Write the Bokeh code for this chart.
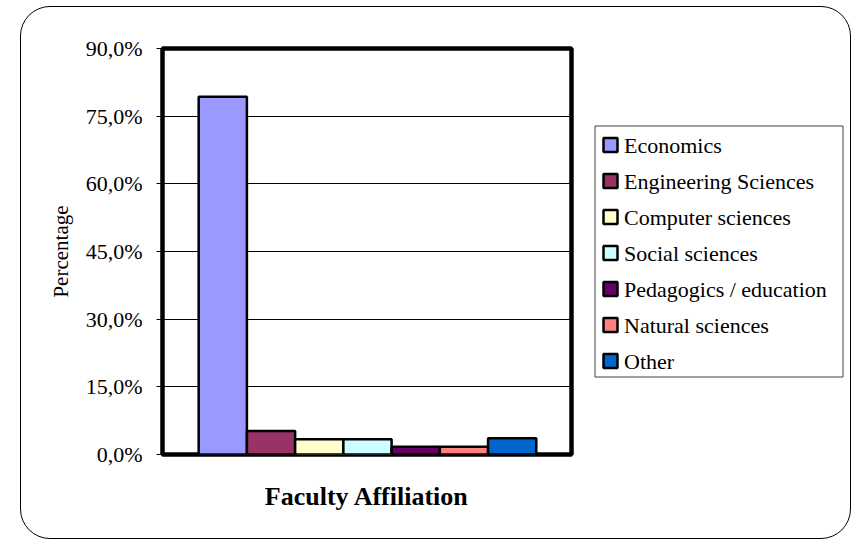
from bokeh.plotting import figure
from bokeh.models import Range1d, FixedTicker, ColumnDataSource, Label
from bokeh.layouts import row
from bokeh.embed import file_html
from bokeh.resources import INLINE

categories = ["Economics", "Engineering Sciences", "Computer sciences", "Social sciences",
              "Pedagogics / education", "Natural sciences", "Other"]
values = [79.3, 5.2, 3.4, 3.4, 1.7, 1.7, 3.6]
colors = ["#9999FF", "#993366", "#FFFFCC", "#CCFFFF", "#660066", "#FF8080", "#0066CC"]
y_ticks = [0, 15, 30, 45, 60, 75, 90]
y_tick_labels = ["0,0%", "15,0%", "30,0%", "45,0%", "60,0%", "75,0%", "90,0%"]

FONT = "Liberation Serif"
FH = 406

p = figure(frame_width=409, frame_height=FH,
           min_border_left=141, min_border_right=10, min_border_top=41, min_border_bottom=84,
           x_range=Range1d(-1.25, 7.23), y_range=Range1d(0, 90),
           output_backend="svg", toolbar_location=None)
p.outline_line_color = "black"
p.outline_line_width = 4.5
p.background_fill_color = "white"
p.border_fill_color = None

src = ColumnDataSource(dict(x=list(range(len(categories))), top=values, color=colors, cat=categories))
p.vbar(x="x", top="top", bottom=0, width=1.0, source=src,
       fill_color="color", line_color="black", line_width=2.5)

# axes
p.xaxis.ticker = FixedTicker(ticks=[])
p.xaxis.axis_line_color = None
p.xaxis.major_tick_line_color = None
p.xaxis.minor_tick_line_color = None
p.xaxis.axis_label = "Faculty Affiliation"
p.xaxis.axis_label_text_font = FONT
p.xaxis.axis_label_text_font_style = "bold"
p.xaxis.axis_label_text_font_size = "26px"
p.xaxis.axis_label_text_color = "black"
p.xaxis.axis_label_standoff = 27

p.yaxis.ticker = FixedTicker(ticks=y_ticks)
p.yaxis.major_label_overrides = {t: l for t, l in zip(y_ticks, y_tick_labels)}
p.yaxis.axis_line_color = None
p.yaxis.major_tick_in = 0
p.yaxis.major_tick_out = 6
p.yaxis.major_tick_line_color = "black"
p.yaxis.minor_tick_line_color = None
p.yaxis.major_label_text_font = FONT
p.yaxis.major_label_text_font_size = "22px"
p.yaxis.major_label_text_color = "black"
p.yaxis.major_label_standoff = 14
p.yaxis.axis_label = "Percentage"
p.yaxis.axis_label_text_font = FONT
p.yaxis.axis_label_text_font_size = "21px"
p.yaxis.axis_label_text_font_style = "normal"
p.yaxis.axis_label_text_color = "black"
p.yaxis.axis_label_standoff = 10

p.xgrid.grid_line_color = None
p.ygrid.ticker = FixedTicker(ticks=y_ticks)
p.ygrid.grid_line_color = "black"
p.ygrid.grid_line_width = 1

# ---- legend panel (separate figure in screen-pixel units, frame aligned with main frame) ----
LW = 829 - (141 + 409 + 10)
leg = figure(frame_width=LW, frame_height=FH, min_border_left=0, min_border_right=0,
             min_border_top=41, min_border_bottom=84,
             x_range=Range1d(0, LW), y_range=Range1d(FH, 0),
             output_backend="svg", toolbar_location=None)
leg.axis.visible = False
leg.grid.visible = False
leg.outline_line_color = None
leg.background_fill_color = None
leg.border_fill_color = None

box_left, box_right, box_top, box_bottom = 13.5, 261.5, 77.5, 328.5
leg.quad(left=[box_left], right=[box_right], top=[box_top], bottom=[box_bottom],
         fill_color="white", line_color="#404040", line_width=1)

n = len(categories)
row_y = [96.5 + 36 * i for i in range(n)]
leg_src = ColumnDataSource(dict(y=row_y, color=colors, cat=categories))
leg.rect(x=29, y="y", width=14, height=14, source=leg_src,
         fill_color="color", line_color="black", line_width=2.5)
for yy, c in zip(row_y, categories):
    leg.add_layout(Label(x=42.5, y=yy, text=c, text_font=FONT, text_font_size="22px",
                         text_color="black", text_baseline="middle", text_align="left"))

lay = row(p, leg, spacing=0)
lay.styles = {"margin-left": "20px", "margin-top": "6px",
              "border": "1.5px solid #000000", "border-radius": "30px"}

open("out.html", "w").write(file_html(lay, INLINE))
